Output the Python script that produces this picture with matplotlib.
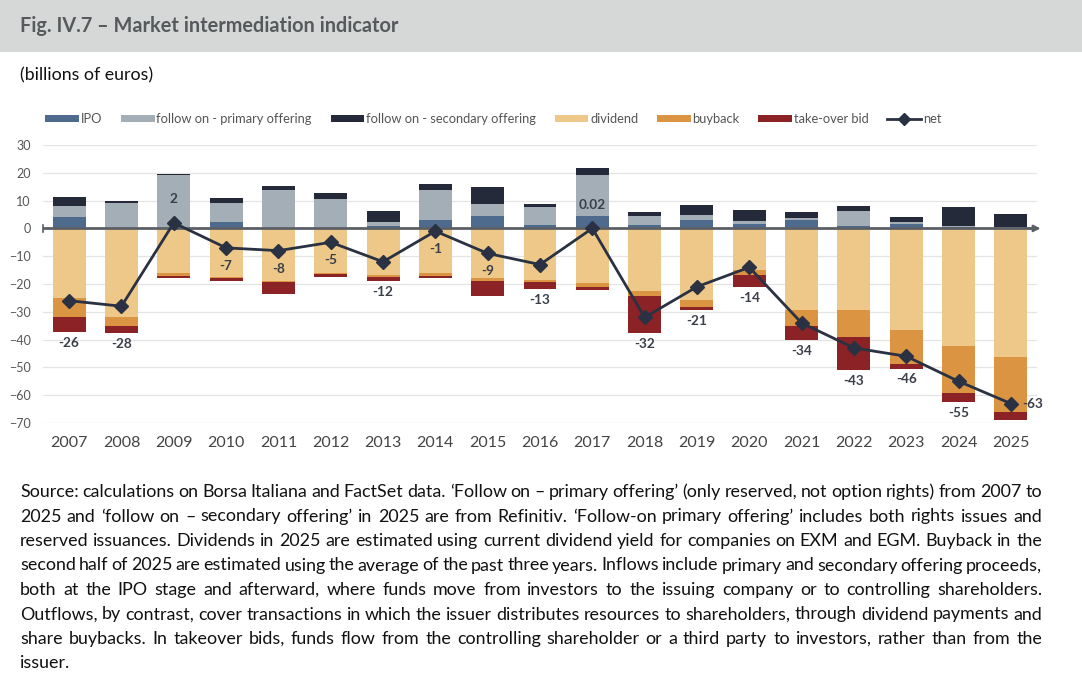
import numpy as np
import matplotlib.pyplot as plt
from matplotlib.patches import Rectangle
from matplotlib.lines import Line2D

plt.rcParams['font.family'] = ['Lato', 'DejaVu Sans']

years = [str(y) for y in range(2007, 2026)]

# inflows (billions of euros)
ipo = [4, 0.3, 0, 2.3, 0.3, 0.3, 1, 2.9, 4.6, 1.4, 4.6, 1.4, 2.9, 1.7, 2.9, 0.7, 1.7, 0.5, 0.3]
primary = [4, 8.8, 19.3, 7, 13.6, 10.2, 1.2, 11, 4.2, 6.2, 14.6, 3.2, 1.8, 1, 1, 5.5, 0.6, 0.2, 0.3]
secondary = [3.2, 0.6, 0.3, 1.8, 1.4, 2.1, 4, 2.1, 6.2, 1.2, 2.4, 1.4, 3.6, 4, 2, 1.7, 1.8, 6.9, 4.5]

# outflows
dividend = [-25, -31.7, -16.2, -17.5, -18.8, -16, -16.8, -16, -18, -18.6, -19.8, -22.4, -25.7, -15, -29.5, -29.3, -36.4, -42.4, -46.2]
buyback = [-6.8, -3.5, -0.8, -0.5, -0.4, -0.5, -0.6, -1, -0.8, -0.8, -1.4, -1.9, -2.4, -1.8, -5.7, -9.8, -12.5, -16.9, -19.8]
takeover = [-5.5, -2.4, -1, -0.8, -4.5, -1, -1.4, -0.7, -5.4, -2.5, -1, -13.3, -1.2, -4.2, -5, -11.9, -1.5, -3.3, -2.9]

net = [-26, -28, 2, -7, -8, -5, -12, -1, -9, -13, 0.02, -32, -21, -14, -34, -43, -46, -55, -63]
net_labels = ['-26', '-28', '2', '-7', '-8', '-5', '-12', '-1', '-9', '-13', '0.02',
              '-32', '-21', '-14', '-34', '-43', '-46', '-55', '-63']
# where the net label sits: below bar, under marker, above marker, right of marker
label_mode = ['bar', 'bar', 'up', 'under', 'under', 'under', 'bar', 'under', 'under', 'bar',
              'up', 'bar', 'bar', 'bar', 'bar', 'bar', 'bar', 'bar', 'right']

source_lines = [
    "Source: calculations on Borsa Italiana and FactSet data. \u2018Follow on \u2013 primary offering\u2019 (only reserved, not option rights) from 2007 to",
    "2025 and \u2018follow on \u2013 secondary offering\u2019 in 2025 are from Refinitiv. \u2018Follow-on primary offering\u2019 includes both rights issues and",
    "reserved issuances. Dividends in 2025 are estimated using current dividend yield for companies on EXM and EGM. Buyback in the",
    "second half of 2025 are estimated using the average of the past three years. Inflows include primary and secondary offering proceeds,",
    "both at the IPO stage and afterward, where funds move from investors to the issuing company or to controlling shareholders.",
    "Outflows, by contrast, cover transactions in which the issuer distributes resources to shareholders, through dividend payments and",
    "share buybacks. In takeover bids, funds flow from the controlling shareholder or a third party to investors, rather than from the",
    "issuer.",
]

c_ipo = '#4e6a8c'
c_prim = '#a4aeb6'
c_sec = '#242a3a'
c_div = '#edc888'
c_buy = '#da9442'
c_tko = '#8a2226'
c_net = '#2a3142'

W, H = 1082, 686
fig = plt.figure(figsize=(W / 100, H / 100), dpi=100)

# header band
fig.patches.append(Rectangle((0, 1 - 52 / H), 1, 52 / H, transform=fig.transFigure,
                             facecolor='#d6d8d8', edgecolor='none', zorder=0))
fig.text(20 / W, 1 - 26 / H, 'Fig. IV.7 \u2013 Market intermediation indicator',
         fontsize=14.3, fontweight='bold', color='#575a5c', va='center')
fig.text(20 / W, 1 - 75 / H, '(billions of euros)', fontsize=12.8, color='#111111', va='center')

ax = fig.add_axes([43 / W, 1 - 423 / H, (1037 - 43) / W, (423 - 145) / H])
x = np.arange(len(years))
bw = 0.63

ipo_a = np.array(ipo)
prim_a = np.array(primary)
sec_a = np.array(secondary)
div_a = np.array(dividend)
buy_a = np.array(buyback)
tko_a = np.array(takeover)

ax.bar(x, ipo_a, bw, color=c_ipo, label='IPO', zorder=2)
ax.bar(x, prim_a, bw, bottom=ipo_a, color=c_prim, label='follow on - primary offering', zorder=2)
ax.bar(x, sec_a, bw, bottom=ipo_a + prim_a, color=c_sec, label='follow on - secondary offering', zorder=2)
ax.bar(x, div_a, bw, color=c_div, label='dividend', zorder=2)
ax.bar(x, buy_a, bw, bottom=div_a, color=c_buy, label='buyback', zorder=2)
ax.bar(x, tko_a, bw, bottom=div_a + buy_a, color=c_tko, label='take-over bid', zorder=2)

# zero line with arrow
ax.axhline(0, color='#5c6064', lw=2, zorder=3)
ax.annotate('', xy=(18.62, 0), xytext=(18.3, 0),
            arrowprops=dict(arrowstyle='-|>', color='#5c6064', lw=1.5, mutation_scale=10),
            annotation_clip=False, zorder=3)
ax.plot([-0.5, -0.5], [-1.2, 1.2], color='#5c6064', lw=1.2, zorder=3, clip_on=False)

ax.plot(x, net, color=c_net, lw=2, marker='D', markersize=7, zorder=4, label='net')

bottoms = div_a + buy_a + tko_a
for i, lab in enumerate(net_labels):
    m = label_mode[i]
    if m == 'bar':
        xt, yt, ha = x[i], bottoms[i] - 3.9, 'center'
    elif m == 'under':
        xt, yt, ha = x[i], net[i] - 6.5, 'center'
    elif m == 'up':
        xt, yt, ha = x[i], net[i] + 8.5, 'center'
    else:
        xt, yt, ha = x[i] + 0.22, net[i], 'left'
    ax.text(xt, yt, lab, ha=ha, va='center', fontsize=9.8, fontweight='bold', color='#3a3f4a', zorder=5)

ax.set_xlim(-0.5, 18.5)
ax.set_ylim(-70, 30)
ax.set_yticks(np.arange(-70, 31, 10))
ax.set_xticks(x)
ax.set_xticklabels(years)
ax.tick_params(axis='y', length=0, pad=9, labelsize=9, labelcolor='#555555')
ax.tick_params(axis='x', length=0, pad=9, labelsize=11.5, labelcolor='#444444')
ax.yaxis.grid(True, color='#e4e4e4', lw=0.9, zorder=0)
ax.set_axisbelow(True)
for s in ax.spines.values():
    s.set_visible(False)

handles, labels = ax.get_legend_handles_labels()
net_handle = Line2D([0], [0], color=c_net, lw=2, marker='D', markersize=6)
order = ['IPO', 'follow on - primary offering', 'follow on - secondary offering',
         'dividend', 'buyback', 'take-over bid', 'net']
hmap = dict(zip(labels, handles))
hmap['net'] = net_handle
leg = fig.legend([hmap[k] for k in order], order, loc='center left',
                 bbox_to_anchor=(40 / W, 1 - 119 / H), ncol=7, frameon=False,
                 fontsize=9.3, handlelength=2.6, handleheight=0.55, handletextpad=0.15,
                 columnspacing=1.45, borderaxespad=0, labelcolor='#555555')

# justified source text
fs_src = 12.9
renderer = fig.canvas.get_renderer()
left, right = 20, 1042
y0 = 492
probe = fig.text(0, 0, 'a a', fontsize=fs_src)
probe2 = fig.text(0, 0, 'aa', fontsize=fs_src)
space_w = probe.get_window_extent(renderer).width - probe2.get_window_extent(renderer).width
probe.remove()
probe2.remove()
for li, line in enumerate(source_lines):
    yy = 1 - (y0 + li * 24.5) / H
    words = line.split(' ')
    texts = [fig.text(0, yy, w, fontsize=fs_src, color='#111111', va='center') for w in words]
    widths = [t.get_window_extent(renderer).width for t in texts]
    if li == len(source_lines) - 1:
        gap = space_w
    else:
        gap = (right - left - sum(widths)) / (len(words) - 1)
    xpos = left
    for t, w in zip(texts, widths):
        t.set_x(xpos / W)
        xpos += w + gap

fig.savefig('out.png', dpi=100)
